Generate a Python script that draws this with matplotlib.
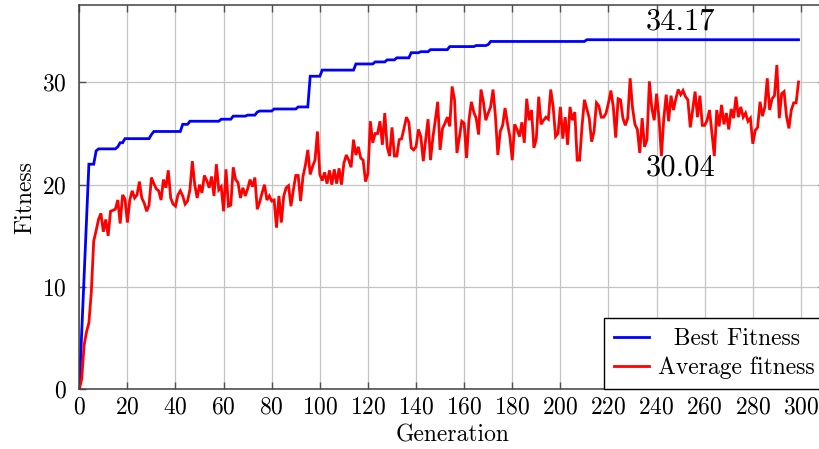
import numpy as np
import matplotlib
matplotlib.use("Agg")
import matplotlib.pyplot as plt

# Computer Modern look (pgfplots style)
plt.rcParams['font.family'] = ['cmr10', 'DejaVu Serif']
plt.rcParams['axes.formatter.use_mathtext'] = True
plt.rcParams['font.size'] = 17

# data
generations = np.arange(300)

# best fitness is a step curve: level values and how many generations each lasts
best_levels = [0.0, 5.5, 11.0, 16.5, 22.0, 23.3, 23.5, 23.7, 24.1, 24.5, 24.9, 25.2,
               25.9, 26.2, 26.4, 26.7, 26.8, 27.1, 27.2, 27.4, 27.6, 30.6, 31.2,
               31.8, 32.0, 32.2, 32.4, 32.9, 33.0, 33.2, 33.5, 33.6, 33.7, 34.0, 34.17]
best_runs = [1, 1, 1, 1, 3, 1, 8, 1, 2, 11, 1, 12,
             3, 13, 5, 6, 4, 1, 6, 10, 5, 5, 14,
             8, 5, 4, 6, 4, 4, 8, 11, 5, 1, 40, 89]
best_fitness = np.repeat(best_levels, best_runs)

avg_fitness = [
    0.0, 1.0, 4.3, 5.6, 6.5, 9.5, 14.5, 15.5, 16.6, 17.2,
    15.4, 16.6, 15.0, 17.4, 17.5, 17.6, 18.5, 16.2, 19.0, 18.6,
    16.3, 18.5, 19.4, 18.7, 19.0, 20.3, 18.7, 18.2, 17.4, 18.0,
    20.7, 20.1, 19.6, 19.4, 18.5, 20.5, 19.7, 21.4, 18.7, 18.1,
    17.9, 19.0, 19.4, 18.9, 18.1, 18.4, 19.5, 22.3, 20.0, 18.7,
    20.0, 19.2, 20.9, 20.4, 19.7, 20.8, 18.9, 22.0, 19.5, 19.8,
    17.4, 21.5, 17.9, 18.0, 21.7, 20.5, 20.2, 18.7, 19.7, 18.9,
    19.6, 20.5, 19.8, 20.7, 17.6, 18.3, 19.2, 20.0, 18.5, 18.9,
    18.4, 18.5, 15.8, 18.9, 16.3, 18.9, 19.7, 19.9, 17.9, 19.5,
    20.9, 20.9, 18.4, 20.8, 21.9, 23.4, 21.0, 21.8, 22.4, 25.2,
    21.0, 20.4, 21.2, 20.1, 21.4, 20.0, 21.5, 20.1, 21.6, 20.0,
    22.1, 22.9, 22.4, 21.7, 24.4, 22.9, 23.7, 22.6, 22.4, 20.3,
    21.1, 26.2, 24.1, 25.0, 25.0, 26.2, 23.9, 27.0, 23.7, 22.8,
    25.6, 22.8, 22.8, 24.4, 24.5, 25.5, 26.6, 26.1, 23.6, 23.4,
    23.7, 25.4, 24.7, 22.3, 24.4, 26.4, 22.4, 24.6, 26.3, 28.1,
    23.4, 25.5, 26.0, 26.6, 25.7, 29.6, 28.3, 23.1, 24.6, 26.2,
    26.0, 22.6, 26.3, 28.1, 27.1, 26.5, 24.9, 29.3, 28.1, 26.3,
    27.0, 27.6, 29.3, 26.7, 22.9, 25.2, 25.8, 27.5, 26.0, 24.7,
    22.4, 25.9, 25.4, 24.7, 26.1, 24.1, 28.4, 26.3, 27.3, 23.6,
    24.5, 28.6, 25.9, 26.3, 26.6, 26.4, 29.3, 27.6, 24.7, 25.0,
    27.6, 24.5, 26.6, 23.9, 27.6, 26.3, 27.1, 22.4, 22.4, 25.7,
    28.3, 27.4, 26.5, 24.2, 25.2, 28.0, 27.7, 26.6, 26.6, 27.0,
    28.0, 29.2, 27.6, 24.6, 28.4, 28.3, 26.5, 25.8, 26.5, 30.4,
    27.5, 25.9, 25.4, 23.1, 26.5, 23.7, 24.4, 30.1, 27.5, 26.3,
    28.9, 26.5, 22.8, 26.5, 28.8, 26.2, 28.7, 27.3, 28.4, 29.3,
    28.8, 29.2, 28.6, 28.3, 25.6, 27.3, 29.1, 26.6, 28.7, 25.8,
    25.8, 26.3, 27.3, 25.0, 22.8, 27.3, 25.7, 27.8, 25.9, 27.0,
    25.4, 27.4, 26.5, 28.6, 26.6, 27.6, 26.6, 27.0, 26.2, 26.5,
    24.0, 25.3, 25.6, 28.1, 26.7, 27.6, 30.4, 27.3, 28.4, 28.7,
    31.7, 26.5, 28.9, 29.1, 26.7, 25.5, 27.3, 28.0, 28.0, 30.04,
]

final_best = "34.17"
final_avg = "30.04"

fig = plt.figure(figsize=(8.19, 4.49), dpi=100)
ax = fig.add_axes([0.0968, 0.133, 0.9105, 0.856])

ax.plot(generations, best_fitness, color='blue', lw=2.0, label='  Best Fitness',
        solid_joinstyle='miter')
ax.plot(generations, avg_fitness, color='red', lw=2.0, label='Average fitness',
        solid_joinstyle='miter')

ax.set_xlim(0, 310)
ax.set_ylim(0, 37.57)
ax.set_xticks(np.arange(0, 301, 20))
ax.set_yticks([0, 10, 20, 30])
ax.grid(True, color='#c4c4c4', lw=0.9)
ax.set_axisbelow(True)
ax.tick_params(direction='in', length=5, width=1, color='#505050',
               top=True, right=True, labelsize=17)
ax.tick_params(axis='y', pad=9)
ax.tick_params(axis='x', pad=5)
for s in ax.spines.values():
    s.set_color('#404040')
    s.set_linewidth(1.1)

ax.set_xlabel('Generation', fontsize=17, labelpad=4)
ax.set_ylabel('Fitness', fontsize=17, labelpad=4)

# final values
ax.text(250, 35.2, final_best, fontsize=22, ha='center', va='baseline')
ax.text(250, 20.85, final_avg, fontsize=22, ha='center', va='baseline')

leg = ax.legend(loc='lower right', borderaxespad=0, fontsize=17, fancybox=False,
                edgecolor='black', framealpha=1, handlelength=1.5,
                handletextpad=0.4, borderpad=0.42, labelspacing=0.3)
leg.get_frame().set_linewidth(1.0)

fig.savefig('out.png', dpi=100)
